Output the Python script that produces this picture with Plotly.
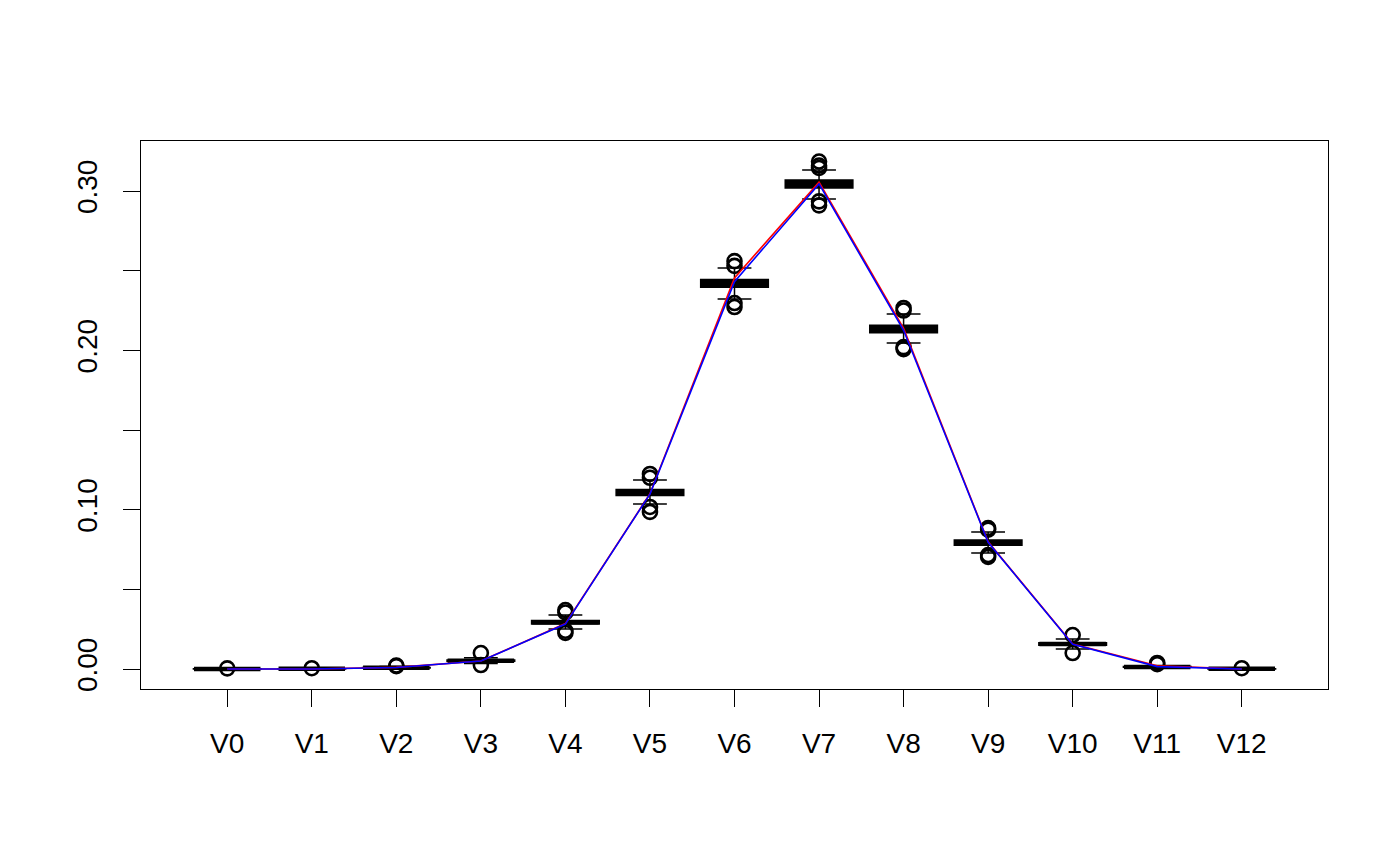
import plotly.graph_objects as go

categories = ["V0", "V1", "V2", "V3", "V4", "V5", "V6", "V7", "V8", "V9", "V10", "V11", "V12"]
medians = [0.0000, 0.0001, 0.0008, 0.0052, 0.0293, 0.1108, 0.2420, 0.3044, 0.2134, 0.0793, 0.0157, 0.0013, 0.0001]
q1 = [0.0000, 0.0000, 0.0006, 0.0048, 0.0282, 0.1089, 0.2396, 0.3019, 0.2111, 0.0777, 0.0149, 0.0011, 0.0000]
q3 = [0.0001, 0.0001, 0.0010, 0.0057, 0.0304, 0.1127, 0.2445, 0.3069, 0.2158, 0.0810, 0.0165, 0.0015, 0.0001]
lower_whisker = [0.0000, 0.0000, 0.0002, 0.0035, 0.0251, 0.1036, 0.2323, 0.2950, 0.2046, 0.0728, 0.0126, 0.0005, 0.0000]
upper_whisker = [0.0002, 0.0003, 0.0016, 0.0070, 0.0339, 0.1187, 0.2517, 0.3132, 0.2228, 0.0860, 0.0188, 0.0021, 0.0003]

outlier_cats = ["V0", "V1", "V2", "V2",
                "V3", "V3",
                "V4", "V4", "V4", "V4",
                "V5", "V5", "V5", "V5",
                "V6", "V6", "V6", "V6",
                "V7", "V7", "V7", "V7", "V7",
                "V8", "V8", "V8", "V8",
                "V9", "V9", "V9", "V9",
                "V10", "V10",
                "V11", "V11",
                "V12"]
outlier_vals = [0.0004, 0.0005, 0.0018, 0.0022,
                0.0100, 0.0025,
                0.0370, 0.0355, 0.0226, 0.0240,
                0.1224, 0.1200, 0.1017, 0.0986,
                0.2560, 0.2530, 0.2297, 0.2272,
                0.3185, 0.3160, 0.3145, 0.2935, 0.2910,
                0.2266, 0.2250, 0.2020, 0.2008,
                0.0885, 0.0875, 0.0703, 0.0715,
                0.0213, 0.0100,
                0.0038, 0.0030,
                0.0005]

red_line = [0.0000, 0.0000, 0.0010, 0.0050, 0.0285, 0.1100, 0.2455, 0.3056, 0.2138, 0.0798, 0.0157, 0.0020, 0.0000]
blue_line = [0.0000, 0.0000, 0.0009, 0.0050, 0.0282, 0.1098, 0.2431, 0.3045, 0.2126, 0.0795, 0.0155, 0.0015, 0.0000]

ytick_vals = [0.00, 0.05, 0.10, 0.15, 0.20, 0.25, 0.30]
ytick_text = ["0.00", "", "0.10", "", "0.20", "", "0.30"]

FONT = "Liberation Sans, Arial, sans-serif"

fig = go.Figure()

fig.add_trace(go.Box(
    x=categories, q1=q1, median=medians, q3=q3,
    lowerfence=lower_whisker, upperfence=upper_whisker,
    boxpoints=False, width=0.8, whiskerwidth=0.5,
    fillcolor="black", line=dict(color="black", width=1.5),
    showlegend=False, hoverinfo="skip",
))

# thick median bars (line-ew marker length = 1.4 * size)
fig.add_trace(go.Scatter(
    x=categories, y=medians, mode="markers",
    marker=dict(symbol="line-ew", size=47.5, line=dict(color="black", width=4.5)),
    showlegend=False, hoverinfo="skip",
))

fig.add_trace(go.Scatter(
    x=outlier_cats, y=outlier_vals, mode="markers",
    marker=dict(symbol="circle-open", size=14, color="black", line=dict(color="black", width=2.6)),
    showlegend=False,
))

fig.add_trace(go.Scatter(
    x=categories, y=red_line, mode="lines",
    line=dict(color="#FF0000", width=1.6), showlegend=False,
))
fig.add_trace(go.Scatter(
    x=categories, y=blue_line, mode="lines",
    line=dict(color="#0000FF", width=1.6), showlegend=False,
))

fig.update_layout(
    width=1400, height=865,
    margin=dict(l=133, r=80, t=133, b=184),
    paper_bgcolor="white", plot_bgcolor="white",
    font=dict(family=FONT, size=28, color="black"),
    showlegend=False,
)
fig.update_xaxes(
    type="category", categoryorder="array", categoryarray=categories,
    range=[-1.02, 13.02],
    showgrid=False, zeroline=False,
    showline=True, mirror=True, linecolor="black", linewidth=1,
    ticks="outside", ticklen=17, tickwidth=1, tickcolor="black",
    ticklabelstandoff=12,
    tickfont=dict(family=FONT, size=28, color="black"),
)
fig.update_yaxes(
    range=[-0.01255, 0.3314],
    tickvals=ytick_vals, ticktext=ytick_text, tickangle=-90,
    showgrid=False, zeroline=False,
    showline=True, mirror=True, linecolor="black", linewidth=1,
    ticks="outside", ticklen=17, tickwidth=1, tickcolor="black",
    ticklabelstandoff=15,
    tickfont=dict(family=FONT, size=28, color="black"),
)

fig.write_html("out.html")
